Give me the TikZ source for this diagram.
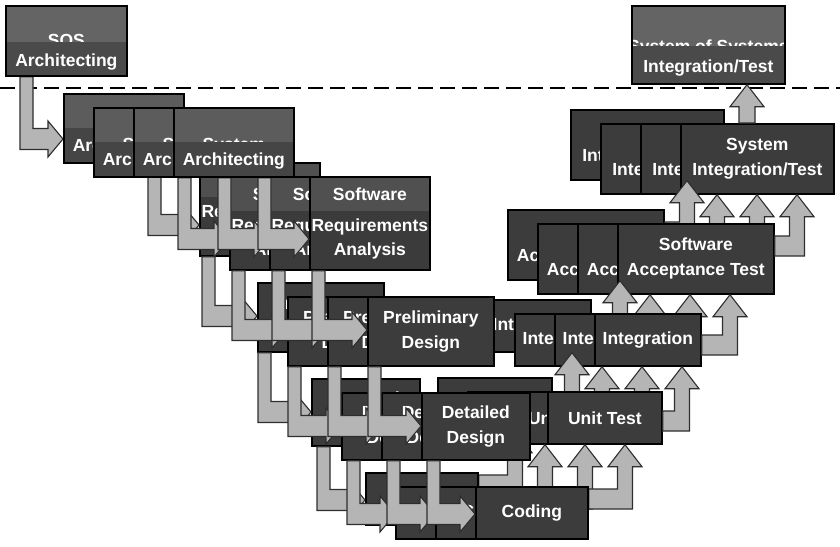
\documentclass[tikz,border=0pt]{standalone}
\usepackage{fontspec}
\setmainfont{Liberation Sans}
\usetikzlibrary{calc}

\definecolor{boxfill}{HTML}{3C3C3C}
\definecolor{sosTop}{HTML}{646464}
\definecolor{sosLow}{HTML}{4A4A4A}
\definecolor{saTop}{HTML}{5C5C5C}
\definecolor{saLow}{HTML}{454545}
\definecolor{sraTop}{HTML}{505050}
\definecolor{sraLow}{HTML}{3B3B3B}
\definecolor{arrowfill}{HTML}{B5B5B5}
\definecolor{arrowline}{HTML}{2E2E2E}

\pgfdeclarelayer{bottom}
\pgfdeclarelayer{back}
\pgfdeclarelayer{front}
\pgfsetlayers{bottom,back,main,front}

% back copy, two copies, main card of each stage
\newcommand{\colset}{-110/-14/b,-80/0/1,-40/0/2,0/0/m}

% down-then-right arrow: source, shaft offset, target, drop below target top
\newcommand{\fallarrow}[4]{%
  \filldraw[fatarrow] let \p1=(#1.south west), \p2=(#3.north west) in
    (\x1+#2pt,\y1) -- (\x1+#2pt+13pt,\y1) -- (\x1+#2pt+13pt,\y2-#4pt+10.5pt)
    -- (\x2-15pt,\y2-#4pt+10.5pt) -- (\x2-15pt,\y2-#4pt+18pt) -- (\x2,\y2-#4pt)
    -- (\x2-15pt,\y2-#4pt-18pt) -- (\x2-15pt,\y2-#4pt-10.5pt)
    -- (\x1+#2pt,\y2-#4pt-10.5pt) -- cycle;}

% right-then-up arrow: source, drop below source top, target, shaft offset
\newcommand{\risearrow}[4]{%
  \filldraw[fatarrow] let \p1=(#1.north east), \p2=(#3.south west) in
    (\x1,\y1-#2pt+10pt) -- (\x2+#4pt-7.5pt,\y1-#2pt+10pt) -- (\x2+#4pt-7.5pt,\y2-22pt)
    -- (\x2+#4pt-17pt,\y2-22pt) -- (\x2+#4pt,\y2) -- (\x2+#4pt+17pt,\y2-22pt)
    -- (\x2+#4pt+7.5pt,\y2-22pt) -- (\x2+#4pt+7.5pt,\y1-#2pt-10pt)
    -- (\x1,\y1-#2pt-10pt) -- cycle;}

% straight up arrow: source, shaft offset, target
\newcommand{\liftarrow}[3]{%
  \filldraw[fatarrow] let \p1=(#1.north west), \p2=(#3.south) in
    (\x1+#2pt-8pt,\y1) -- (\x1+#2pt-8pt,\y2-22pt) -- (\x1+#2pt-17pt,\y2-22pt)
    -- (\x1+#2pt,\y2) -- (\x1+#2pt+17pt,\y2-22pt) -- (\x1+#2pt+8pt,\y2-22pt)
    -- (\x1+#2pt+8pt,\y1) -- cycle;}

\begin{document}
\begin{tikzpicture}[x=1pt, y=-1pt,
    box/.style={draw=black, line width=1.7pt, fill=boxfill, inner sep=0pt, anchor=north west},
    lbl/.style={text=white, font=\bfseries\fontsize{17.5}{25}\selectfont, align=center, inner sep=0pt},
    fatarrow/.style={fill=arrowfill, draw=arrowline, line width=1.1pt, line join=miter},
    divider/.style={draw=black, line width=2.2pt, dash pattern=on 15pt off 7pt},
    sosbox/.style={box, fill=sosTop, minimum width=121pt, minimum height=70pt, path picture={
      \node[lbl, anchor=base] at ([yshift=-41pt]path picture bounding box.north) {SOS};
      \fill[sosLow] ([yshift=-36pt]path picture bounding box.north west) rectangle (path picture bounding box.south east);
      \node[lbl, anchor=base] at ([yshift=-61pt]path picture bounding box.north) {Architecting};}},
    sabox/.style={box, fill=saTop, minimum width=120pt, minimum height=69pt, path picture={
      \node[lbl, anchor=base] at ([yshift=-43pt]path picture bounding box.north) {System};
      \fill[saLow] ([yshift=-34pt]path picture bounding box.north west) rectangle (path picture bounding box.south east);
      \node[lbl, anchor=base] at ([yshift=-57.5pt]path picture bounding box.north) {Architecting};}},
    srabox/.style={box, fill=sraTop, minimum width=120pt, minimum height=93pt, path picture={
      \node[lbl, anchor=base] at ([yshift=-23.5pt]path picture bounding box.north) {Software};
      \fill[sraLow] ([yshift=-34pt]path picture bounding box.north west) rectangle (path picture bounding box.south east);
      \node[lbl, anchor=base] at ([yshift=-54.5pt]path picture bounding box.north) {Requirements};
      \node[lbl, anchor=base] at ([yshift=-78.5pt]path picture bounding box.north) {Analysis};}},
    pdbox/.style={box, lbl, minimum width=126pt, minimum height=69pt},
    ddbox/.style={box, lbl, minimum width=108pt, minimum height=67pt},
    cdbox/.style={box, lbl, minimum width=112pt, minimum height=52pt},
    utbox/.style={box, lbl, minimum width=114pt, minimum height=52pt},
    intbox/.style={box, lbl, minimum width=106pt, minimum height=52pt},
    satbox/.style={box, lbl, minimum width=156pt, minimum height=70pt},
    sibox/.style={box, lbl, minimum width=153pt, minimum height=70pt},
    sositbox/.style={box, fill=sosTop, minimum width=153pt, minimum height=78pt, path picture={
      \node[lbl, anchor=base] at ([yshift=-46.5pt]path picture bounding box.north) {System of Systems};
      \fill[sosLow] ([yshift=-40pt]path picture bounding box.north west) rectangle (path picture bounding box.south east);
      \node[lbl, anchor=base] at ([yshift=-66.5pt]path picture bounding box.north) {Integration/Test};}}
]
\useasboundingbox (0,0) rectangle (840,546);

% SoS level / system level divider
\begin{pgfonlayer}{bottom}
  \coordinate (div-l) at (0,88);
  \coordinate (div-r) at (840,88);
  \draw[divider] (div-l) -- (div-r);
\end{pgfonlayer}

% left leg
\begin{pgfonlayer}{front}
  \node[sosbox] (sos-arch) at (5,5) {};
  \foreach \dx/\dy/\c in \colset {
    \node[sabox] (sa-\c) at ({173+\dx},{107+\dy}) {};
  }
\end{pgfonlayer}
\fallarrow{sos-arch}{15}{sa-b}{46}

\foreach \dx/\dy/\c in \colset {
  \node[srabox] (sra-\c) at ({309+\dx},{176+\dy}) {};
  \fallarrow{sa-\c}{85}{sra-\c}{63}
}
\foreach \dx/\dy/\c in \colset {
  \node[pdbox] (pd-\c) at ({367+\dx},{296+\dy}) {Preliminary\\Design};
  \fallarrow{sra-\c}{3}{pd-\c}{34}
}
\foreach \dx/\dy/\c in \colset {
  \node[ddbox] (dd-\c) at ({421+\dx},{392+\dy}) {Detailed\\Design};
  \fallarrow{pd-\c}{1}{dd-\c}{34}
}
\foreach \dx/\dy/\c in \colset {
  \node[cdbox] (cd-\c) at ({475+\dx},{486+\dy}) {Coding};
  \fallarrow{dd-\c}{6}{cd-\c}{28}
}

% right leg
\begin{pgfonlayer}{back}
  \node[sositbox] (sos-it) at (631,5) {};
  \foreach \dx/\dy/\c in \colset {
    \node[sibox] (si-\c) at ({680+\dx},{123+\dy}) {System\\Integration/Test};
  }
  \liftarrow{si-m}{67}{sos-it}
  \foreach \dx/\dy/\c in \colset {
    \node[satbox] (sat-\c) at ({617+\dx},{223+\dy}) {Software\\Acceptance Test};
    \risearrow{sat-\c}{23}{si-\c}{117}
  }
  \foreach \dx/\dy/\c in \colset {
    \node[intbox] (int-\c) at ({594+\dx},{313+\dy}) {Integration};
    \risearrow{int-\c}{32}{sat-\c}{113}
  }
  \foreach \dx/\dy/\c in \colset {
    \node[utbox] (ut-\c) at ({547+\dx},{391+\dy}) {Unit Test};
    \risearrow{ut-\c}{30}{int-\c}{88}
  }
  \foreach \dx/\dy/\c in \colset {
    \risearrow{cd-\c}{13}{ut-\c}{78}
  }
\end{pgfonlayer}

\end{tikzpicture}
\end{document}
